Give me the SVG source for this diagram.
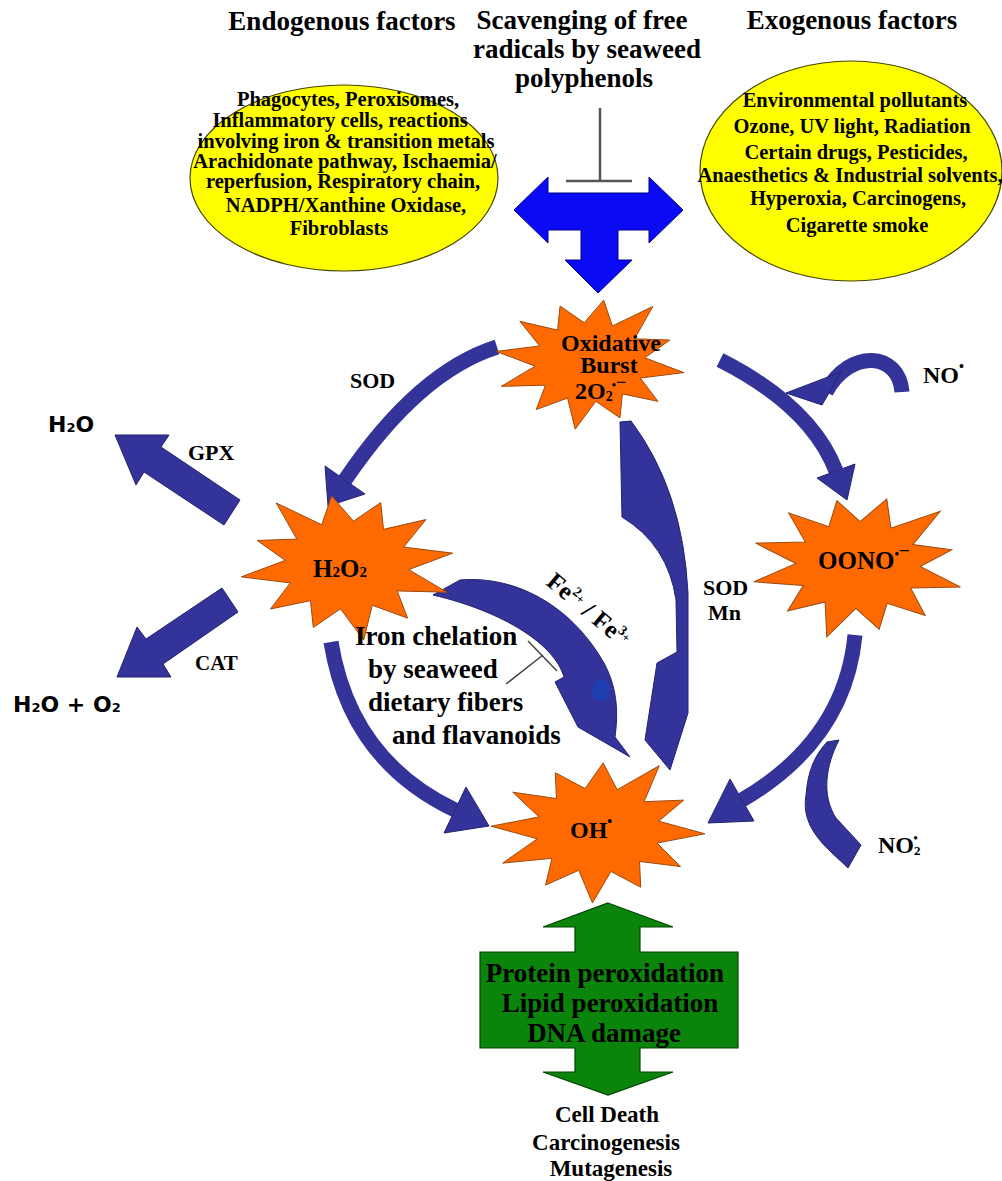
<svg xmlns="http://www.w3.org/2000/svg" width="1002" height="1181" viewBox="0 0 1002 1181">
<defs>
<style>
.t{font-family:"Liberation Serif","Times New Roman",serif;font-weight:bold;fill:#000}
.c{text-anchor:middle}
.s{font-family:"DejaVu Sans","Liberation Sans",sans-serif;font-weight:bold;fill:#000}
.star{fill:#ff6a00;stroke:#9a4a10}
.db{fill:#333399;stroke:#232370;stroke-width:1}
.ds{fill:none;stroke:#333399;stroke-width:15;stroke-linecap:butt}
.ell{fill:#ffff00;stroke:#444400;stroke-width:1.2}
.inh{fill:none;stroke:#555;stroke-width:2.5}
</style>
<path id="star" vector-effect="non-scaling-stroke" stroke-width="1" d="M-0.988,-0.156 L-0.530,-0.236 L-0.738,-0.598 L-0.341,-0.469 L-0.315,-0.822 L-0.061,-0.577 L0.144,-0.909 L0.236,-0.530 L0.661,-0.816 L0.469,-0.341 L0.840,-0.323 L0.577,-0.061 L0.988,0.156 L0.530,0.236 L0.715,0.579 L0.341,0.469 L0.315,0.822 L0.061,0.577 L-0.156,0.988 L-0.236,0.530 L-0.566,0.699 L-0.469,0.341 L-0.934,0.358 L-0.577,0.061 Z"/>
</defs>
<rect width="1002" height="1181" fill="#fff"/>

<!-- titles -->
<g id="titles" class="t" font-size="27">
<text class="c" x="342" y="30">Endogenous factors</text>
<text class="c" x="582" y="29">Scavenging of free</text>
<text class="c" x="587" y="58">radicals by seaweed</text>
<text class="c" x="584" y="87">polyphenols</text>
<text class="c" x="852" y="29">Exogenous factors</text>
</g>

<g id="endogenous">
<ellipse class="ell" cx="344" cy="178" rx="154" ry="93"/>
<g class="t c" font-size="20.5">
<text x="348" y="106">Phagocytes, Peroxisomes,</text>
<text x="340" y="127">Inflammatory cells, reactions</text>
<text x="346" y="148">involving iron &amp; transition metals</text>
<text x="345" y="168">Arachidonate pathway, Ischaemia/</text>
<text x="343" y="188">reperfusion, Respiratory chain,</text>
<text x="346" y="212">NADPH/Xanthine Oxidase,</text>
<text x="339" y="235">Fibroblasts</text>
</g>
</g>

<g id="exogenous">
<ellipse class="ell" cx="851" cy="171" rx="151" ry="110"/>
<g class="t c" font-size="20.5">
<text x="855" y="107">Environmental pollutants</text>
<text x="852" y="133">Ozone, UV light, Radiation</text>
<text x="856" y="159">Certain drugs, Pesticides,</text>
<text x="850" y="182">Anaesthetics &amp; Industrial solvents,</text>
<text x="858" y="205">Hyperoxia, Carcinogens,</text>
<text x="857" y="232">Cigarette smoke</text>
</g>
</g>

<g id="scavenging-inhibition">
<path class="inh" d="M600,108 V181 M566,181 H632"/>
</g>

<g id="t-arrow">
<polygon fill="#0a0af5" stroke="#00008a" stroke-width="1" points="514,210 548,177 548,193 649,193 649,177 683,210 649,243 649,230 618,230 618,260 632,260 598,293 565,260 581,260 581,230 548,230 548,243"/>
</g>

<g id="connectors">
<!-- SOD: O2 -> H2O2 -->
<path class="ds" stroke-width="14" d="M497,347 Q418,372 345,480"/>
<polygon class="db" points="325,466 365,494 328,506"/>
<!-- O2 -> OONO -->
<path class="ds" stroke-width="14" d="M720,360 Q811,406 836,471"/>
<polygon class="db" points="817,478 855,464 847,500"/>
<!-- NO curl -->
<path class="ds" d="M902,392 C899,352 850,348 826,392"/>
<polygon class="db" points="786,393 822,405 841,372"/>
<!-- long middle crescent O2 -> OH -->
<path class="db" d="M620,422 L631,421 Q683,490 688,593 L688,713 L670,770 L645,740 L657,663 L677,652 L676,600 Q668,545 622,517 Z"/>
<!-- Fe arrow H2O2 -> OH -->
<path class="db" d="M433,595 L460,580 C520,575 575,610 605,665 C618,690 618,715 615,737 L630,757 L578,727 L555,682 L564,677 C555,645 505,612 433,595 Z"/>
<ellipse cx="601" cy="690" rx="9" ry="11" fill="#1d3fb0"/>
<!-- H2O2 -> OH -->
<path class="ds" d="M331,642 Q350,760 455,810"/>
<polygon class="db" points="466,787 489,826 444,833"/>
<!-- OONO -> OH -->
<path class="ds" d="M855,635 Q845,740 742,800"/>
<polygon class="db" points="730,779 708,823 754,821"/>
<!-- NO2 crescent -->
<path class="db" d="M827,742 L839,740 C826,765 821,795 836,818 L861,845 L848,868 C830,850 800,830 806,795 C808,770 815,755 827,742 Z"/>
<!-- GPX -->
<polygon class="db" points="240,500 161,447 169,435 115,435 136,485 144,472 224,525"/>
<!-- CAT -->
<polygon class="db" points="222,588 146,639 137,627 117,677 171,677 163,664 238,612"/>
<!-- iron chelation inhibition -->
<path fill="none" stroke="#444" stroke-width="1.5" d="M506,684 L543,655 M528,641 L557,671"/>
</g>

<g id="oxidative-burst">
<use href="#star" class="star" transform="translate(590,362) scale(95,68)"/>
<text class="t c" x="611" y="351" font-size="24">Oxidative</text>
<text class="t c" x="609" y="373" font-size="24">Burst</text>
<text class="t" x="575" y="399" font-size="24">2O<tspan font-size="14" dy="2">2</tspan><tspan font-size="12" dx="-1" dy="-12">•</tspan><tspan font-size="18" dy="-1">−</tspan></text>
</g>

<g id="h2o2">
<use href="#star" class="star" transform="translate(347,565) scale(-107,76)"/>
<text class="t" x="313" y="577" font-size="25">H<tspan font-size="15">2</tspan>O<tspan font-size="15">2</tspan></text>
</g>

<g id="oono">
<use href="#star" class="star" transform="translate(858,565) scale(107,75) rotate(8)"/>
<text class="t" x="818" y="569" font-size="25">OONO<tspan font-size="13" dy="-11">•</tspan><tspan font-size="19" dy="-1">−</tspan></text>
</g>

<g id="oh">
<use href="#star" class="star" transform="translate(598,830) scale(107,73) rotate(-6)"/>
<text class="t" x="570" y="838" font-size="24">OH<tspan font-size="14" dy="-12">•</tspan></text>
</g>

<g id="damage">
<polygon fill="#0a840a" stroke="#004400" stroke-width="1.2" points="608,903 673,927 640,927 640,952 738,952 738,1048 640,1048 640,1072 673,1072 608,1095 543,1072 575,1072 575,1048 480,1048 480,952 575,952 575,927 543,927"/>
<g class="t c" font-size="27">
<text x="605" y="982">Protein peroxidation</text>
<text x="610" y="1012">Lipid peroxidation</text>
<text x="604" y="1042">DNA damage</text>
</g>
</g>

<g id="outcomes" class="t c" font-size="23">
<text x="607" y="1122">Cell Death</text>
<text x="606" y="1150">Carcinogenesis</text>
<text x="611" y="1176">Mutagenesis</text>
</g>

<g id="labels">
<text class="t" x="350" y="388" font-size="22">SOD</text>
<text class="t" x="188" y="460" font-size="22">GPX</text>
<text class="t" x="195" y="670" font-size="21">CAT</text>
<text class="t" x="703" y="595" font-size="22">SOD</text>
<text class="t" x="708" y="620" font-size="22">Mn</text>
<text class="t" x="923" y="383" font-size="24">NO<tspan font-size="14" dy="-12">•</tspan></text>
<text class="t" x="878" y="853" font-size="24">NO<tspan font-size="13" dy="2">2</tspan><tspan font-size="12" dx="-7" dy="-13">•</tspan></text>
<text class="s" x="48" y="432" font-size="22">H<tspan font-size="13">2</tspan>O</text>
<text class="s" x="13" y="712" font-size="22">H<tspan font-size="13">2</tspan>O + O<tspan font-size="13">2</tspan></text>
<text class="t" transform="translate(545,584) rotate(40)" font-size="25">Fe<tspan font-size="14" dy="-10">2</tspan><tspan font-size="12" dy="3">+</tspan><tspan dy="7"> / Fe</tspan><tspan font-size="14" dy="-10">3</tspan><tspan font-size="12" dy="3">+</tspan></text>
</g>

<g id="iron-chelation" class="t" font-size="27">
<text x="355" y="645">Iron chelation</text>
<text x="368" y="678">by seaweed</text>
<text x="368" y="711">dietary fibers</text>
<text x="392" y="744">and flavanoids</text>
</g>
</svg>
